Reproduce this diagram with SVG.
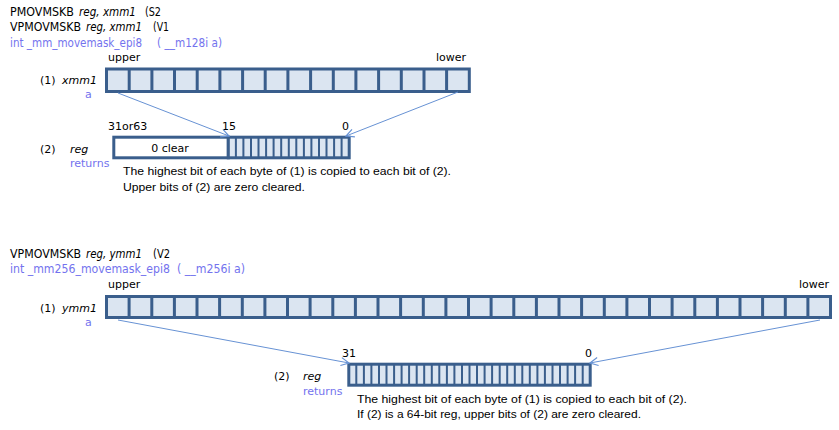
<svg xmlns="http://www.w3.org/2000/svg" width="839" height="430" viewBox="0 0 839 430">
<defs>
<style>
.h{font-family:"DejaVu Sans",Verdana,sans-serif;font-size:11px;fill:#000}
.t{font-family:"DejaVu Sans",Verdana,sans-serif;font-size:11.5px;fill:#000}
.b{fill:#7373ee}
.i{font-style:italic}
.d{font-family:"Liberation Sans",Arial,sans-serif;font-size:11.5px;fill:#000}
.box{fill:#dbe5f1;stroke:#3a5e8c;stroke-width:3}
.clr{fill:#ffffff;stroke:#3a5e8c;stroke-width:3}
.div{stroke:#3a5e8c;stroke-width:3;fill:none}
.bit{stroke:#3a5e8c;stroke-width:2;fill:none}
.arr{stroke:#6792d4;stroke-width:1;fill:none;marker-end:url(#ah)}
</style>
<marker id="ah" viewBox="0 0 10 10" refX="9" refY="5" markerWidth="10" markerHeight="10" markerUnits="userSpaceOnUse" orient="auto">
<path d="M1,1 L9,5 L1,9" fill="none" stroke="#6792d4" stroke-width="1.2"/>
</marker>
</defs>
<rect width="839" height="430" fill="#ffffff"/>

<g id="header1">
<text class="t" x="10" y="16" textLength="64" lengthAdjust="spacingAndGlyphs">PMOVMSKB</text>
<text class="t i" x="79" y="16" textLength="57" lengthAdjust="spacingAndGlyphs">reg, xmm1</text>
<text class="t" x="145" y="16" textLength="16" lengthAdjust="spacingAndGlyphs">(S2</text>
<text class="t" x="10" y="31" textLength="71" lengthAdjust="spacingAndGlyphs">VPMOVMSKB</text>
<text class="t i" x="86" y="31" textLength="56" lengthAdjust="spacingAndGlyphs">reg, xmm1</text>
<text class="t" x="153" y="31" textLength="16" lengthAdjust="spacingAndGlyphs">(V1</text>
<text class="t b" x="10" y="47" textLength="132" lengthAdjust="spacingAndGlyphs">int _mm_movemask_epi8</text>
<text class="t b" x="157" y="47" textLength="65" lengthAdjust="spacingAndGlyphs">( __m128i a)</text>
</g>

<g id="xmm1">
<text class="h" x="108" y="61">upper</text>
<text class="h" x="436" y="61">lower</text>
<text class="h" x="40" y="84">(1)</text>
<text class="h i" x="62" y="84">xmm1</text>
<text class="h b" x="85" y="98">a</text>
<rect class="box" x="106.5" y="69" width="362.8" height="22.5"/>
<path class="div" d="M129.2,69V91.5M151.9,69V91.5M174.5,69V91.5M197.2,69V91.5M219.9,69V91.5M242.6,69V91.5M265.2,69V91.5M287.9,69V91.5M310.6,69V91.5M333.3,69V91.5M355.9,69V91.5M378.6,69V91.5M401.3,69V91.5M424.0,69V91.5M446.6,69V91.5"/>
</g>

<g id="reg1">
<text class="h" x="108" y="130">31or63</text>
<text class="h" x="222" y="130">15</text>
<text class="h" x="342" y="130">0</text>
<text class="h" x="40" y="153">(2)</text>
<text class="h i" x="70" y="153">reg</text>
<text class="h b" x="70" y="167">returns</text>
<rect class="clr" x="113.8" y="137.2" width="114.5" height="20.6"/>
<rect class="box" x="228.3" y="137.2" width="120.9" height="20.6"/>
<path class="bit" d="M235.9,137.2V157.8M243.4,137.2V157.8M251.0,137.2V157.8M258.5,137.2V157.8M266.1,137.2V157.8M273.6,137.2V157.8M281.2,137.2V157.8M288.8,137.2V157.8M296.3,137.2V157.8M303.9,137.2V157.8M311.4,137.2V157.8M319.0,137.2V157.8M326.5,137.2V157.8M334.1,137.2V157.8M341.6,137.2V157.8"/>
<text class="h" x="170" y="152" text-anchor="middle">0 clear</text>
<text class="d" x="123" y="175" textLength="328" lengthAdjust="spacingAndGlyphs">The highest bit of each byte of (1) is copied to each bit of (2).</text>
<text class="d" x="123" y="191" textLength="182" lengthAdjust="spacingAndGlyphs">Upper bits of (2) are zero cleared.</text>
</g>

<g id="header2">
<text class="t" x="10" y="258" textLength="71" lengthAdjust="spacingAndGlyphs">VPMOVMSKB</text>
<text class="t i" x="86" y="258" textLength="56" lengthAdjust="spacingAndGlyphs">reg, ymm1</text>
<text class="t" x="153" y="258" textLength="17" lengthAdjust="spacingAndGlyphs">(V2</text>
<text class="t b" x="10" y="273" textLength="160" lengthAdjust="spacingAndGlyphs">int _mm256_movemask_epi8</text>
<text class="t b" x="177" y="273" textLength="68" lengthAdjust="spacingAndGlyphs">( __m256i a)</text>
</g>

<g id="ymm1">
<text class="h" x="108" y="288">upper</text>
<text class="h" x="799" y="288">lower</text>
<text class="h" x="40" y="312">(1)</text>
<text class="h i" x="62" y="312">ymm1</text>
<text class="h b" x="85" y="326">a</text>
<rect class="box" x="106.5" y="296.5" width="724" height="21"/>
<path class="div" d="M129.1,296.5V317.5M151.8,296.5V317.5M174.4,296.5V317.5M197.0,296.5V317.5M219.6,296.5V317.5M242.3,296.5V317.5M264.9,296.5V317.5M287.5,296.5V317.5M310.1,296.5V317.5M332.8,296.5V317.5M355.4,296.5V317.5M378.0,296.5V317.5M400.6,296.5V317.5M423.3,296.5V317.5M445.9,296.5V317.5M468.5,296.5V317.5M491.1,296.5V317.5M513.8,296.5V317.5M536.4,296.5V317.5M559.0,296.5V317.5M581.6,296.5V317.5M604.3,296.5V317.5M626.9,296.5V317.5M649.5,296.5V317.5M672.1,296.5V317.5M694.8,296.5V317.5M717.4,296.5V317.5M740.0,296.5V317.5M762.6,296.5V317.5M785.3,296.5V317.5M807.9,296.5V317.5"/>
</g>

<g id="reg2">
<text class="h" x="342" y="357">31</text>
<text class="h" x="585" y="357">0</text>
<text class="h" x="274" y="380">(2)</text>
<text class="h i" x="303" y="380">reg</text>
<text class="h b" x="303" y="395">returns</text>
<rect class="box" x="348.8" y="364.2" width="241.4" height="21"/>
<path class="bit" d="M356.3,364.2V385.2M363.9,364.2V385.2M371.4,364.2V385.2M379.0,364.2V385.2M386.5,364.2V385.2M394.1,364.2V385.2M401.6,364.2V385.2M409.1,364.2V385.2M416.7,364.2V385.2M424.2,364.2V385.2M431.8,364.2V385.2M439.3,364.2V385.2M446.9,364.2V385.2M454.4,364.2V385.2M462.0,364.2V385.2M469.5,364.2V385.2M477.0,364.2V385.2M484.6,364.2V385.2M492.1,364.2V385.2M499.7,364.2V385.2M507.2,364.2V385.2M514.8,364.2V385.2M522.3,364.2V385.2M529.8,364.2V385.2M537.4,364.2V385.2M544.9,364.2V385.2M552.5,364.2V385.2M560.0,364.2V385.2M567.6,364.2V385.2M575.1,364.2V385.2M582.7,364.2V385.2"/>
<text class="d" x="357" y="403" textLength="330" lengthAdjust="spacingAndGlyphs">The highest bit of each byte of (1) is copied to each bit of (2).</text>
<text class="d" x="357" y="418" textLength="284" lengthAdjust="spacingAndGlyphs">If (2) is a 64-bit reg, upper bits of (2) are zero cleared.</text>
</g>

<g id="connectors">
<line class="arr" x1="118" y1="93" x2="229" y2="136"/>
<line class="arr" x1="458" y1="92" x2="346" y2="136"/>
<line class="arr" x1="118" y1="320" x2="349" y2="363"/>
<line class="arr" x1="820" y1="320" x2="590" y2="363"/>
</g>
</svg>
